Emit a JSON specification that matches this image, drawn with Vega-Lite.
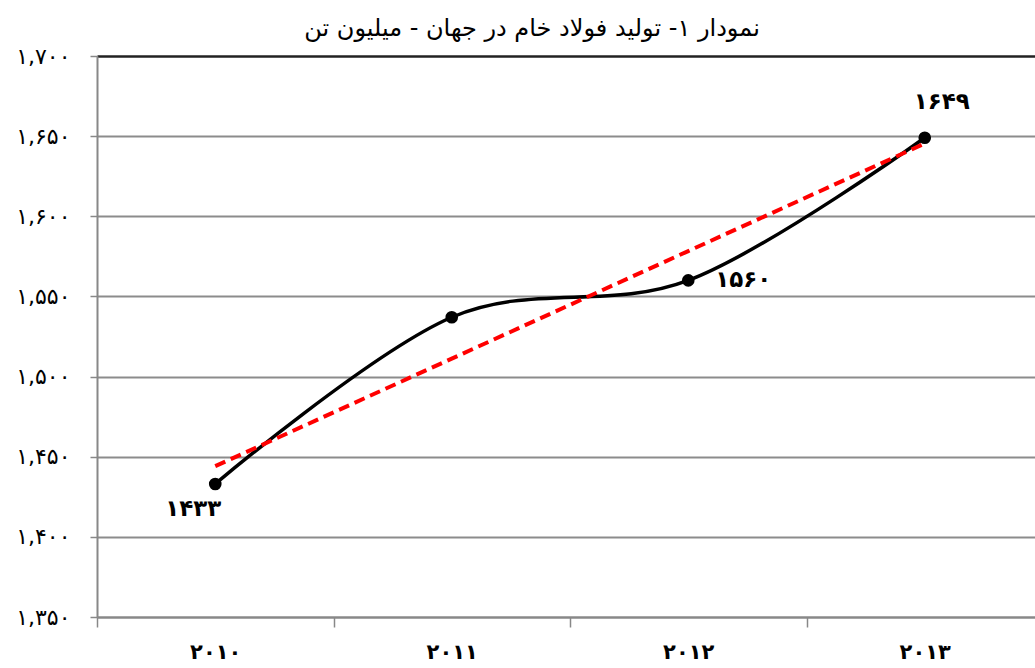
{
  "$schema": "https://vega.github.io/schema/vega-lite/v6.json",
  "autosize": {"type": "none"},
  "width": 938,
  "height": 561,
  "padding": {"left": 97, "top": 56, "right": 0, "bottom": 51},
  "background": "white",
  "title": {
    "text": "نمودار ۱- تولید فولاد خام در جهان - میلیون تن",
    "font": "DejaVu Sans",
    "fontSize": 24,
    "fontWeight": "normal",
    "color": "black",
    "anchor": "middle",
    "dx": -34,
    "offset": 4
  },
  "config": {
    "view": {"stroke": null},
    "font": "DejaVu Sans"
  },
  "data": {
    "values": [
      {"year": "۲۰۱۰", "value": 1433, "trend": 1444.1, "label": "۱۴۳۳"},
      {"year": "۲۰۱۱", "value": 1537, "trend": 1511.2, "label": ""},
      {"year": "۲۰۱۲", "value": 1560, "trend": 1578.3, "label": "۱۵۶۰"},
      {"year": "۲۰۱۳", "value": 1649, "trend": 1645.4, "label": "۱۶۴۹"}
    ]
  },
  "encoding": {
    "x": {
      "field": "year",
      "type": "ordinal",
      "sort": null,
      "bandPosition": 0.5,
      "scale": {"type": "band", "range": [0, 946], "paddingInner": 0, "paddingOuter": 0},
      "axis": {
        "title": null,
        "labelAngle": 0,
        "tickBand": "extent",
        "grid": false,
        "domainColor": "#888888",
        "domainWidth": 2,
        "tickColor": "#888888",
        "tickWidth": 1.5,
        "tickSize": 10,
        "labelPadding": 14,
        "labelBaseline": "top",
        "labelFontSize": 21,
        "labelFontWeight": "bold",
        "labelColor": "black",
        "labelFont": "DejaVu Sans"
      }
    }
  },
  "layer": [
    {
      "mark": {"type": "line", "interpolate": "cardinal", "color": "black", "strokeWidth": 3.5},
      "encoding": {
        "y": {
          "field": "value",
          "type": "quantitative",
          "scale": {"domain": [1350, 1700], "nice": false, "zero": false},
          "axis": {
            "title": null,
            "values": [1350, 1400, 1450, 1500, 1550, 1600, 1650, 1700],
            "grid": true,
            "gridColor": {"condition": {"test": "datum.value === 1700", "value": "#222222"}, "value": "#8c8c8c"},
            "gridWidth": {"condition": {"test": "datum.value === 1700", "value": 2.5}, "value": 1.8},
            "domainColor": "#888888",
            "domainWidth": 2,
            "tickColor": "#888888",
            "tickWidth": 1.5,
            "tickSize": 7,
            "labelPadding": 20,
            "labelFontSize": 22,
            "labelColor": "black",
            "labelFont": "DejaVu Sans",
            "labelExpr": "datum.value == 1350 ? '۱,۳۵۰' : datum.value == 1400 ? '۱,۴۰۰' : datum.value == 1450 ? '۱,۴۵۰' : datum.value == 1500 ? '۱,۵۰۰' : datum.value == 1550 ? '۱,۵۵۰' : datum.value == 1600 ? '۱,۶۰۰' : datum.value == 1650 ? '۱,۶۵۰' : '۱,۷۰۰'"
          }
        }
      }
    },
    {
      "mark": {"type": "line", "color": "#ff0000", "strokeWidth": 4, "strokeDash": [11, 6]},
      "encoding": {
        "y": {"field": "trend", "type": "quantitative"}
      }
    },
    {
      "mark": {"type": "point", "filled": true, "color": "black", "size": 160, "opacity": 1},
      "encoding": {
        "y": {"field": "value", "type": "quantitative"}
      }
    },
    {
      "transform": [{"filter": "datum.year == '۲۰۱۰'"}],
      "mark": {"type": "text", "fontSize": 23, "fontWeight": "bold", "color": "black", "dx": -22, "dy": 25, "align": "center", "baseline": "middle"},
      "encoding": {
        "y": {"field": "value", "type": "quantitative"},
        "text": {"field": "label"}
      }
    },
    {
      "transform": [{"filter": "datum.year == '۲۰۱۲'"}],
      "mark": {"type": "text", "fontSize": 23, "fontWeight": "bold", "color": "black", "dx": 27, "dy": 0, "align": "left", "baseline": "middle"},
      "encoding": {
        "y": {"field": "value", "type": "quantitative"},
        "text": {"field": "label"}
      }
    },
    {
      "transform": [{"filter": "datum.year == '۲۰۱۳'"}],
      "mark": {"type": "text", "fontSize": 23, "fontWeight": "bold", "color": "black", "dx": 17, "dy": -36, "align": "center", "baseline": "middle"},
      "encoding": {
        "y": {"field": "value", "type": "quantitative"},
        "text": {"field": "label"}
      }
    }
  ]
}
